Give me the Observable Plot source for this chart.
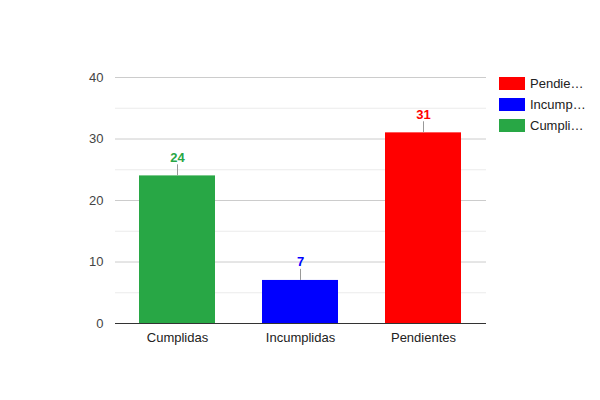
<!DOCTYPE html>
<html>
<head>
<meta charset="utf-8">
<script src="https://cdn.jsdelivr.net/npm/d3@7"></script>
<script src="https://cdn.jsdelivr.net/npm/@observablehq/plot@0.6"></script>
<style>
  html, body { margin: 0; padding: 0; background: #fff; }
  #wrap { position: relative; width: 600px; height: 400px; font-family: Arial, "Liberation Sans", sans-serif; }
  #legend { position: absolute; left: 499px; top: 77px; font-size: 13px; color: #222; }
  #legend .row { display: flex; align-items: center; height: 13px; margin-bottom: 8px; white-space: nowrap; }
  #legend .sw { width: 26px; height: 13px; margin-right: 5px; flex: none; }
</style>
</head>
<body>
<div id="wrap"><div id="legend"></div></div>
<script>
const categories = ["Cumplidas", "Incumplidas", "Pendientes"];
const values = [24, 7, 31];
const colors = ["#28a745", "#0000ff", "#ff0000"];
const majorTicks = [0, 10, 20, 30, 40];
const minorTicks = [5, 15, 25, 35];
const legendLabels = ["Pendie…", "Incump…", "Cumpli…"];
const legendColors = ["#ff0000", "#0000ff", "#28a745"];

const data = categories.map((c, i) => ({cat: c, value: values[i], color: colors[i]}));

const chart = Plot.plot({
  width: 600,
  height: 400,
  marginLeft: 115,
  marginRight: 114,
  marginTop: 77,
  marginBottom: 77,
  style: {fontFamily: "Arial, 'Liberation Sans', sans-serif", fontSize: "13px", background: "#fff", overflow: "visible"},
  x: {domain: categories, paddingInner: 0.38, paddingOuter: 0.19, label: null, tickSize: 0, tickPadding: 9},
  y: {domain: [0, 40], ticks: majorTicks, label: null, tickSize: 0, tickPadding: 12},
  marks: [
    Plot.ruleY(minorTicks, {stroke: "#ebebeb"}),
    Plot.ruleY(majorTicks.filter(t => t !== 0), {stroke: "#cccccc"}),
    Plot.barY(data, {x: "cat", y: "value", fill: "color"}),
    Plot.ruleX(data, {x: "cat", y1: "value", y2: d => d.value + 1.8, stroke: "#999"}),
    Plot.text(data, {x: "cat", y: "value", text: d => String(d.value), fill: "color", fontWeight: "bold", fontSize: 13, lineAnchor: "bottom", dy: -14}),
    Plot.ruleY([0], {stroke: "#333"}),
    Plot.axisX({tickSize: 0, tickPadding: 9, fill: "#222", fontSize: 13}),
    Plot.axisY({ticks: majorTicks, tickSize: 0, tickPadding: 12, fill: "#444", fontSize: 13})
  ]
});
const wrap = document.getElementById("wrap");
wrap.insertBefore(chart, wrap.firstChild);

const legend = document.getElementById("legend");
legendLabels.forEach((l, i) => {
  const row = document.createElement("div");
  row.className = "row";
  const sw = document.createElement("div");
  sw.className = "sw";
  sw.style.background = legendColors[i];
  const t = document.createElement("span");
  t.textContent = l;
  row.appendChild(sw); row.appendChild(t);
  legend.appendChild(row);
});
</script>
</body>
</html>
